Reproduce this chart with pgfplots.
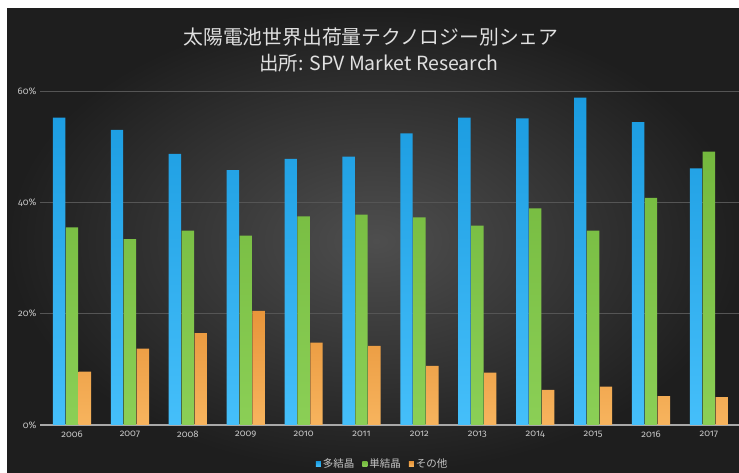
\documentclass[border=0pt]{standalone}
\usepackage{pgfplots}
\pgfplotsset{compat=1.18}
\usepackage{fontspec}
\setmainfont{Fira Sans}[Numbers=OldStyle]
\newfontfamily\cjk{Noto Sans CJK JP}
\definecolor{bgin}{HTML}{4E4E4E}
\definecolor{bgout}{HTML}{1E1E1E}
\definecolor{bgedge}{HTML}{262626}
\definecolor{blueT}{HTML}{1A9BE0}
\definecolor{blueB}{HTML}{45BFFA}
\definecolor{greenT}{HTML}{74B93E}
\definecolor{greenB}{HTML}{8BCF56}
\definecolor{orT}{HTML}{E8953A}
\definecolor{orB}{HTML}{F7B45E}
\definecolor{lbl}{HTML}{C4C4C4}
\definecolor{grd}{HTML}{555555}
\definecolor{base}{HTML}{A8A8A8}
\begin{document}
\begin{tikzpicture}
\fill[white] (0,0) rectangle (739bp,473bp);
\fill[bgedge] (7bp,0) rectangle (745bp,464bp);
\shade[inner color=bgin, outer color=bgout] (7bp,0) rectangle (745bp,464bp);
\node[text=white!88!black, font=\cjk\fontsize{19.8bp}{22bp}\selectfont] at (371bp,436bp) {太陽電池世界出荷量テクノロジー別シェア};
\node[text=white!88!black, font=\cjk\fontsize{19.5bp}{22bp}\selectfont] at (379bp,410bp) {出所: SPV Market Research};
\begin{axis}[
  at={(40bp,48bp)}, anchor=south west,
  scale only axis, width=699bp, height=334bp,
  xmin=-0.553, xmax=11.52, ymin=0, ymax=60,
  axis line style={draw=none},
  major tick length=0pt,
  xtick={0,...,11},
  xticklabels={2006,2007,2008,2009,2010,2011,2012,2013,2014,2015,2016,2017},
  ytick={20,40,60},
  yticklabel={\pgfmathprintnumber{\tick}\%},
  extra y ticks={0}, extra y tick labels={0\%},
  extra y tick style={grid style={base, line width=1.2bp}},
  ymajorgrids, grid style={grd, line width=0.6bp},
  /pgf/number format/assume math mode=true,
  tick label style={text=lbl, font=\fontsize{9.5bp}{11bp}\selectfont},
  xticklabel style={yshift=-3bp},
  legend style={at={(0.49,-0.117)}, anchor=center, draw=none, fill=none,
    text=lbl, font=\cjk\fontsize{10.5bp}{12bp}\selectfont, legend columns=3,
    /tikz/every even column/.append style={column sep=6bp}},
  legend image code/.code={\path[#1,draw=none] (0bp,-2.5bp) rectangle (5bp,2.5bp);},
]
\addplot[ybar, bar width=12.4bp, bar shift=-12.9bp, draw=none, top color=blueT, bottom color=blueB] coordinates {
(0,55.2) (1,53.0) (2,48.7) (3,45.8) (4,47.8) (5,48.2) (6,52.4) (7,55.2) (8,55.1) (9,58.8) (10,54.4) (11,46.1)};
\addlegendentry{多結晶}
\addplot[ybar, bar width=12.4bp, bar shift=0bp, draw=none, top color=greenT, bottom color=greenB] coordinates {
(0,35.5) (1,33.4) (2,34.9) (3,34.0) (4,37.5) (5,37.8) (6,37.3) (7,35.8) (8,38.9) (9,34.9) (10,40.8) (11,49.1)};
\addlegendentry{単結晶}
\addplot[ybar, bar width=12.4bp, bar shift=12.9bp, draw=none, top color=orT, bottom color=orB] coordinates {
(0,9.6) (1,13.7) (2,16.5) (3,20.5) (4,14.8) (5,14.2) (6,10.6) (7,9.4) (8,6.3) (9,6.9) (10,5.2) (11,5.0)};
\addlegendentry{その他}
\end{axis}
\pgfresetboundingbox
\useasboundingbox (0,0) rectangle (739bp,473bp);
\end{tikzpicture}
\end{document}
